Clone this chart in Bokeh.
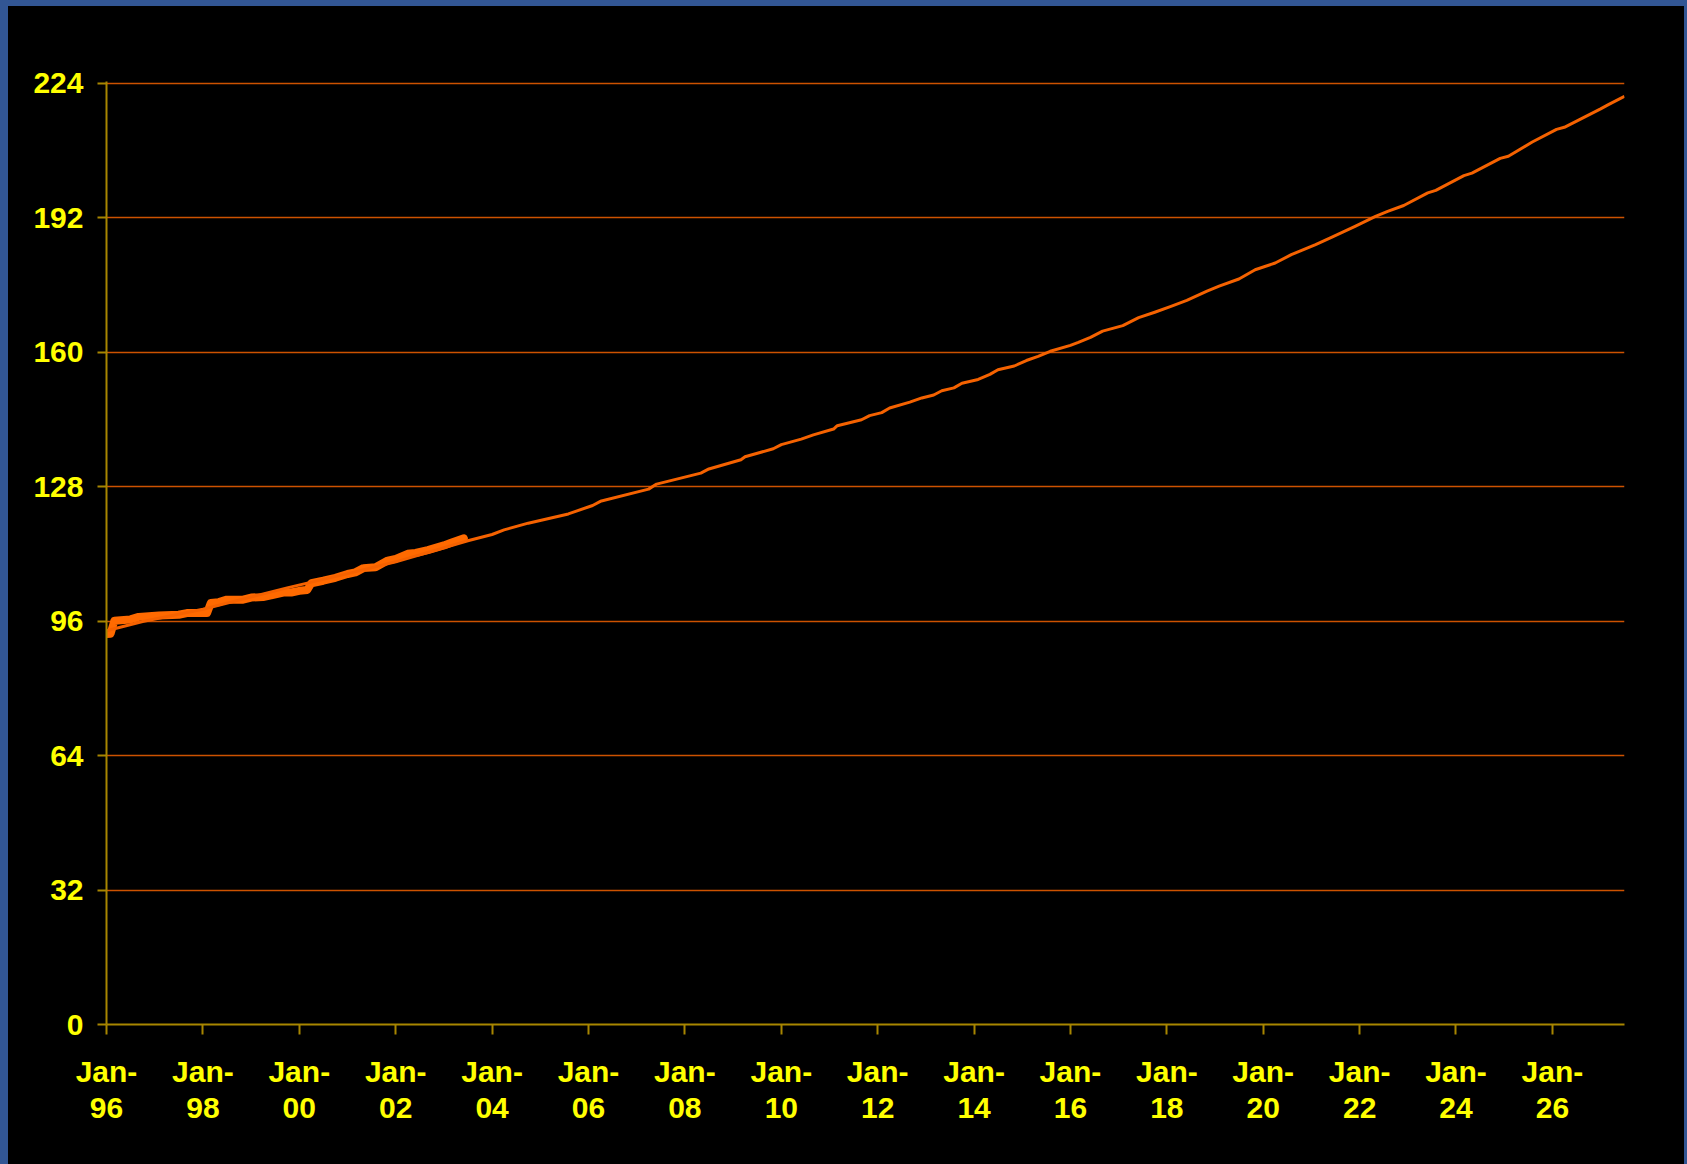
import pandas as pd
from bokeh.plotting import figure
from bokeh.models import DatetimeAxis, FixedTicker, DatetimeTickFormatter, Range1d
from bokeh.layouts import column
from bokeh.embed import file_html
from bokeh.resources import INLINE

# Actual index, monthly readings (Jan 1996 - Jun 2003)
actual_months = [
    "1996-01", "1996-02", "1996-03", "1996-07", "1996-09", "1997-02", "1997-07",
    "1997-09", "1998-02", "1998-03", "1998-05", "1998-07", "1998-11", "1999-01",
    "1999-04", "1999-06", "1999-09", "1999-11", "2000-01", "2000-03", "2000-04",
    "2000-07", "2000-10", "2001-01", "2001-03", "2001-05", "2001-08", "2001-11",
    "2002-01", "2002-04", "2002-06", "2002-09", "2003-01", "2003-03", "2003-06",
]
actual_index = [
    92.9, 93.0, 96.1, 96.4, 97.0, 97.3, 97.5,
    97.9, 97.9, 100.3, 100.5, 101.1, 101.1, 101.6,
    101.7, 102.1, 102.8, 102.8, 103.2, 103.4, 105.0,
    105.6, 106.3, 107.2, 107.6, 108.6, 108.8, 110.4,
    110.8, 112.0, 112.2, 112.9, 114.0, 114.7, 115.7,
]

# Trend projection (Jan 1996 - Jul 2027)
trend_months = [
    "1996-01", "1996-10", "1998-01", "1999-10", "2001-01", "2002-01", "2003-07",
    "2004-01", "2004-04", "2004-10", "2005-08", "2006-02", "2006-04", "2007-04",
    "2007-06", "2008-05", "2008-07", "2009-03", "2009-04", "2009-11", "2010-01",
    "2010-06", "2010-09", "2011-02", "2011-03", "2011-09", "2011-11", "2012-02",
    "2012-04", "2012-09", "2012-12", "2013-03", "2013-05", "2013-08", "2013-10",
    "2014-02", "2014-05", "2014-07", "2014-11", "2015-02", "2015-05", "2015-08",
    "2016-01", "2016-03", "2016-06", "2016-09", "2017-02", "2017-06", "2017-10",
    "2018-02", "2018-06", "2018-11", "2019-02", "2019-07", "2019-11", "2020-04",
    "2020-08", "2021-02", "2021-06", "2021-12", "2022-05", "2022-08", "2022-12",
    "2023-06", "2023-08", "2024-03", "2024-05", "2024-12", "2025-02", "2025-08",
    "2026-02", "2026-04", "2027-01", "2027-03", "2027-07",
]
trend_index = [
    93.7, 95.9, 98.8, 103.9, 107.3, 110.1, 115.1,
    116.6, 117.7, 119.3, 121.5, 123.5, 124.5, 127.4,
    128.6, 131.2, 132.2, 134.4, 135.1, 137.0, 138.0,
    139.3, 140.3, 141.7, 142.5, 143.9, 144.9, 145.6,
    146.7, 148.1, 149.1, 149.8, 150.8, 151.5, 152.6,
    153.5, 154.7, 155.8, 156.7, 158.0, 159.0, 160.2,
    161.6, 162.3, 163.5, 165.0, 166.3, 168.2, 169.5,
    170.9, 172.3, 174.5, 175.7, 177.4, 179.6, 181.2,
    183.2, 185.6, 187.3, 190.0, 192.3, 193.5, 194.9,
    197.9, 198.5, 202.0, 202.6, 206.1, 206.6, 210.0,
    213.0, 213.5, 217.9, 218.9, 220.9,
]

y_ticks = [0, 32, 64, 96, 128, 160, 192, 224]
x_tick_years = list(range(1996, 2027, 2))

FONT = "Liberation Sans"
FONT_SIZE = "30px"
YELLOW = "#FFFF00"
GOLD = "#A88600"
GRID = "#CC5200"
BLUE = "#325694"

actual_x = pd.to_datetime(actual_months)
trend_x = pd.to_datetime(trend_months)
tick_ms = [pd.Timestamp(f"{y}-01-01").value // 10**6 for y in x_tick_years]

p = figure(
    width=1676, height=1158,
    x_axis_type="datetime", x_axis_location=None,
    x_range=Range1d(trend_x[0], trend_x[-1]),
    y_range=Range1d(0, 224.4),
    output_backend="svg", toolbar_location=None,
    background_fill_color="black", border_fill_color="black",
    outline_line_color=None,
    min_border_left=98, min_border_right=60,
    min_border_top=75, min_border_bottom=140,
)
p.margin = (6, 3, 0, 8)

# value axis
yax = p.yaxis[0]
yax.ticker = FixedTicker(ticks=y_ticks)
yax.axis_line_color = GOLD
yax.axis_line_width = 2
yax.major_tick_line_color = GOLD
yax.major_tick_line_width = 2
yax.major_tick_out = 9
yax.major_tick_in = 0
yax.minor_tick_line_color = None
yax.major_label_text_font = FONT
yax.major_label_text_font_style = "bold"
yax.major_label_text_font_size = FONT_SIZE
yax.major_label_text_color = YELLOW
yax.major_label_standoff = 14

p.ygrid.ticker = FixedTicker(ticks=y_ticks)
p.ygrid.grid_line_color = GRID
p.ygrid.grid_line_width = 1.5
p.xgrid.grid_line_color = None

# date axis: "Jan-" row with ticks, then a two-digit year row
def date_formatter(fmt):
    return DatetimeTickFormatter(
        days=fmt, months=fmt, years=fmt, hours=fmt, hourmin=fmt,
    )

month_axis = DatetimeAxis(
    ticker=FixedTicker(ticks=tick_ms),
    formatter=date_formatter("%b-"),
    axis_line_color=GOLD, axis_line_width=2,
    major_tick_line_color=GOLD, major_tick_line_width=2,
    major_tick_out=10, major_tick_in=0,
    minor_tick_line_color=None,
    major_label_text_font=FONT, major_label_text_font_style="bold",
    major_label_text_font_size=FONT_SIZE, major_label_text_color=YELLOW,
    major_label_standoff=20,
)
year_axis = DatetimeAxis(
    ticker=FixedTicker(ticks=tick_ms),
    formatter=date_formatter("%y"),
    axis_line_color=None,
    major_tick_line_color=None, major_tick_out=0, major_tick_in=0,
    minor_tick_line_color=None,
    major_label_text_font=FONT, major_label_text_font_style="bold",
    major_label_text_font_size=FONT_SIZE, major_label_text_color=YELLOW,
    major_label_standoff=7,
)
p.add_layout(month_axis, "below")
p.add_layout(year_axis, "below")

# series
p.line(actual_x, actual_index, line_color="#FF6A00", line_width=8,
       line_cap="round", line_join="round")
p.line(trend_x, trend_index, line_color="#F56200", line_width=3,
       line_join="round")

# black page with a blue frame on the left, top and right edges
page = column(p, styles={
    "background-color": "black",
    "box-shadow": f"inset 8px 6px 0 0 {BLUE}, inset -3px 0 0 0 {BLUE}",
})

open("out.html", "w").write(file_html(page, INLINE))
